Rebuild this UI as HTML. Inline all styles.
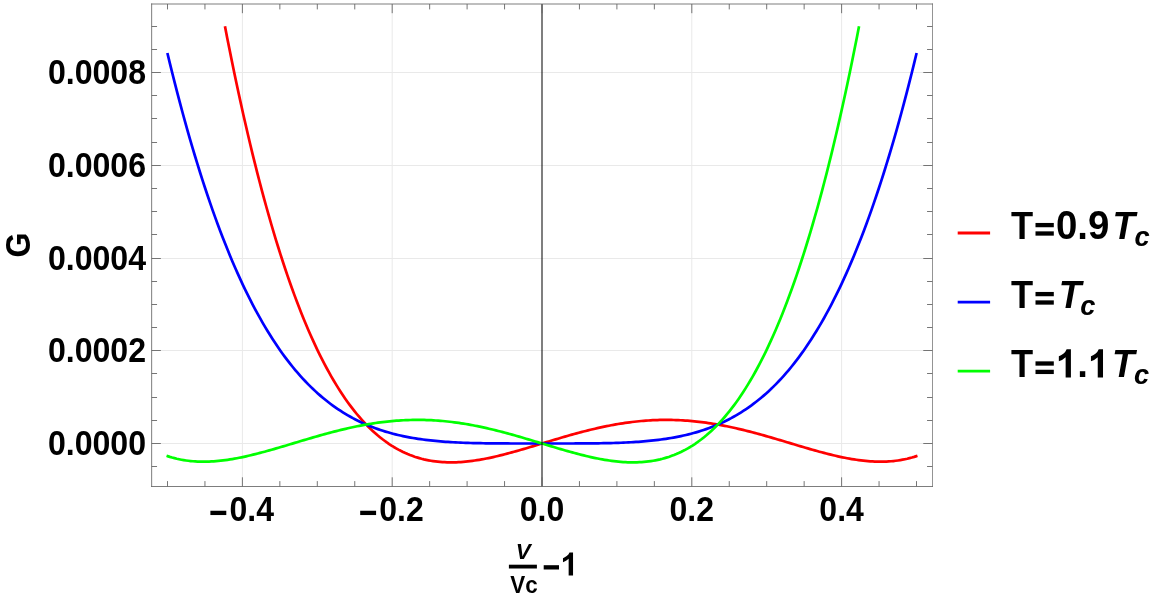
<!DOCTYPE html>
<html><head><meta charset="utf-8"><title>G plot</title>
<style>
html,body{margin:0;padding:0;background:#fff;}
svg{display:block;will-change:transform;}
text{font-family:"Liberation Sans",sans-serif;font-weight:bold;fill:#000;}
.i{font-style:italic;}
</style></head><body>
<svg width="1163" height="598" viewBox="0 0 1163 598">
<rect width="1163" height="598" fill="#fff"/>

<g stroke="#e9e9e9" stroke-width="1" fill="none">
<line x1="242.40" y1="4.0" x2="242.40" y2="486.5"/>
<line x1="392.20" y1="4.0" x2="392.20" y2="486.5"/>
<line x1="691.80" y1="4.0" x2="691.80" y2="486.5"/>
<line x1="841.60" y1="4.0" x2="841.60" y2="486.5"/>
<line x1="151.65" y1="443.50" x2="932.45" y2="443.50"/>
<line x1="151.65" y1="350.50" x2="932.45" y2="350.50"/>
<line x1="151.65" y1="258.50" x2="932.45" y2="258.50"/>
<line x1="151.65" y1="165.50" x2="932.45" y2="165.50"/>
<line x1="151.65" y1="72.50" x2="932.45" y2="72.50"/>
</g>
<g fill="none" stroke-width="2.7" stroke-linejoin="round" stroke-linecap="butt">
<path stroke="#ff0000" d="M224.96,26.26 L227.27,38.14 L229.59,49.80 L231.90,61.24 L234.21,72.46 L236.53,83.45 L238.84,94.24 L241.15,104.81 L243.46,115.17 L245.78,125.32 L248.09,135.27 L250.40,145.01 L252.71,154.56 L255.03,163.90 L257.34,173.06 L259.65,182.02 L261.97,190.78 L264.28,199.36 L266.59,207.76 L268.90,215.97 L271.22,224.00 L273.53,231.85 L275.84,239.52 L278.16,247.02 L280.47,254.35 L282.78,261.51 L285.09,268.50 L287.41,275.33 L289.72,281.99 L292.03,288.50 L294.35,294.84 L296.66,301.03 L298.97,307.07 L301.28,312.95 L303.60,318.68 L305.91,324.27 L308.22,329.71 L310.54,335.01 L312.85,340.16 L315.16,345.18 L317.47,350.06 L319.79,354.80 L322.10,359.41 L324.41,363.90 L326.73,368.25 L329.04,372.47 L331.35,376.57 L333.66,380.55 L335.98,384.41 L338.29,388.14 L340.60,391.76 L342.92,395.27 L345.23,398.66 L347.54,401.94 L349.85,405.11 L352.17,408.17 L354.48,411.13 L356.79,413.99 L359.11,416.74 L361.42,419.39 L363.73,421.94 L366.04,424.40 L368.36,426.76 L370.67,429.03 L372.98,431.20 L375.30,433.29 L377.61,435.29 L379.92,437.20 L382.23,439.03 L384.55,440.77 L386.86,442.44 L389.17,444.02 L391.49,445.53 L393.80,446.96 L396.11,448.31 L398.42,449.60 L400.74,450.81 L403.05,451.95 L405.36,453.02 L407.68,454.03 L409.99,454.97 L412.30,455.84 L414.61,456.66 L416.93,457.41 L419.24,458.10 L421.55,458.74 L423.87,459.32 L426.18,459.84 L428.49,460.31 L430.80,460.73 L433.12,461.10 L435.43,461.42 L437.74,461.69 L440.05,461.91 L442.37,462.09 L444.68,462.22 L446.99,462.32 L449.31,462.37 L451.62,462.38 L453.93,462.35 L456.24,462.28 L458.56,462.18 L460.87,462.04 L463.18,461.87 L465.50,461.66 L467.81,461.42 L470.12,461.16 L472.43,460.86 L474.75,460.53 L477.06,460.18 L479.37,459.81 L481.69,459.40 L484.00,458.98 L486.31,458.53 L488.62,458.06 L490.94,457.57 L493.25,457.06 L495.56,456.53 L497.88,455.98 L500.19,455.42 L502.50,454.84 L504.81,454.25 L507.13,453.65 L509.44,453.03 L511.75,452.40 L514.07,451.76 L516.38,451.11 L518.69,450.45 L521.00,449.78 L523.32,449.11 L525.63,448.43 L527.94,447.74 L530.26,447.05 L532.57,446.36 L534.88,445.66 L537.19,444.96 L539.51,444.26 L541.82,443.55 L544.13,442.85 L546.45,442.15 L548.76,441.45 L551.07,440.75 L553.38,440.06 L555.70,439.36 L558.01,438.68 L560.32,437.99 L562.64,437.31 L564.95,436.64 L567.26,435.98 L569.57,435.32 L571.89,434.67 L574.20,434.03 L576.51,433.39 L578.83,432.77 L581.14,432.15 L583.45,431.55 L585.76,430.96 L588.08,430.37 L590.39,429.81 L592.70,429.25 L595.02,428.70 L597.33,428.17 L599.64,427.65 L601.95,427.15 L604.27,426.66 L606.58,426.18 L608.89,425.72 L611.21,425.28 L613.52,424.85 L615.83,424.44 L618.14,424.04 L620.46,423.66 L622.77,423.30 L625.08,422.95 L627.40,422.63 L629.71,422.32 L632.02,422.02 L634.33,421.75 L636.65,421.49 L638.96,421.25 L641.27,421.03 L643.58,420.83 L645.90,420.65 L648.21,420.49 L650.52,420.35 L652.84,420.22 L655.15,420.12 L657.46,420.03 L659.77,419.97 L662.09,419.92 L664.40,419.89 L666.71,419.89 L669.03,419.90 L671.34,419.93 L673.65,419.98 L675.96,420.05 L678.28,420.14 L680.59,420.25 L682.90,420.38 L685.22,420.53 L687.53,420.70 L689.84,420.88 L692.15,421.09 L694.47,421.31 L696.78,421.55 L699.09,421.81 L701.41,422.09 L703.72,422.39 L706.03,422.70 L708.34,423.04 L710.66,423.39 L712.97,423.75 L715.28,424.14 L717.60,424.53 L719.91,424.95 L722.22,425.38 L724.53,425.83 L726.85,426.29 L729.16,426.77 L731.47,427.26 L733.79,427.76 L736.10,428.28 L738.41,428.82 L740.72,429.36 L743.04,429.92 L745.35,430.49 L747.66,431.07 L749.98,431.66 L752.29,432.27 L754.60,432.88 L756.91,433.50 L759.23,434.13 L761.54,434.77 L763.85,435.42 L766.17,436.08 L768.48,436.74 L770.79,437.41 L773.10,438.08 L775.42,438.76 L777.73,439.45 L780.04,440.13 L782.36,440.82 L784.67,441.51 L786.98,442.21 L789.29,442.90 L791.61,443.60 L793.92,444.29 L796.23,444.99 L798.55,445.68 L800.86,446.37 L803.17,447.05 L805.48,447.73 L807.80,448.41 L810.11,449.08 L812.42,449.74 L814.74,450.39 L817.05,451.04 L819.36,451.68 L821.67,452.30 L823.99,452.92 L826.30,453.52 L828.61,454.11 L830.92,454.68 L833.24,455.24 L835.55,455.79 L837.86,456.31 L840.18,456.82 L842.49,457.31 L844.80,457.78 L847.11,458.23 L849.43,458.66 L851.74,459.06 L854.05,459.44 L856.37,459.79 L858.68,460.12 L860.99,460.42 L863.30,460.69 L865.62,460.93 L867.93,461.14 L870.24,461.32 L872.56,461.46 L874.87,461.57 L877.18,461.64 L879.49,461.68 L881.81,461.67 L884.12,461.63 L886.43,461.55 L888.75,461.42 L891.06,461.25 L893.37,461.04 L895.68,460.78 L898.00,460.47 L900.31,460.11 L902.62,459.70 L904.94,459.24 L907.25,458.73 L909.56,458.16 L911.87,457.54 L914.19,456.86 L916.50,456.12 L917.45,455.82"/>
<path stroke="#0000ff" d="M167.36,52.97 L167.50,53.55 L170.01,63.88 L172.51,74.01 L175.02,83.92 L177.52,93.64 L180.03,103.16 L182.53,112.49 L185.04,121.62 L187.54,130.56 L190.05,139.31 L192.55,147.88 L195.06,156.26 L197.56,164.47 L200.07,172.50 L202.57,180.35 L205.08,188.04 L207.58,195.55 L210.09,202.90 L212.59,210.08 L215.10,217.10 L217.60,223.96 L220.11,230.66 L222.61,237.21 L225.12,243.61 L227.62,249.85 L230.13,255.95 L232.63,261.90 L235.14,267.71 L237.64,273.38 L240.15,278.92 L242.65,284.31 L245.16,289.57 L247.66,294.70 L250.17,299.71 L252.67,304.58 L255.18,309.33 L257.68,313.95 L260.19,318.46 L262.69,322.85 L265.20,327.12 L267.70,331.27 L270.21,335.32 L272.71,339.25 L275.22,343.08 L277.72,346.79 L280.23,350.41 L282.73,353.92 L285.24,357.33 L287.74,360.65 L290.25,363.87 L292.75,366.99 L295.26,370.02 L297.76,372.96 L300.27,375.81 L302.77,378.57 L305.28,381.25 L307.78,383.84 L310.29,386.35 L312.79,388.78 L315.30,391.14 L317.80,393.41 L320.31,395.61 L322.81,397.74 L325.32,399.80 L327.82,401.78 L330.33,403.70 L332.83,405.55 L335.34,407.34 L337.84,409.06 L340.35,410.72 L342.85,412.32 L345.36,413.86 L347.86,415.34 L350.37,416.76 L352.87,418.14 L355.38,419.45 L357.88,420.72 L360.39,421.93 L362.89,423.10 L365.40,424.22 L367.90,425.29 L370.41,426.31 L372.91,427.29 L375.42,428.23 L377.92,429.13 L380.43,429.99 L382.93,430.81 L385.44,431.59 L387.94,432.33 L390.45,433.04 L392.95,433.72 L395.46,434.36 L397.96,434.97 L400.47,435.55 L402.97,436.09 L405.48,436.61 L407.98,437.10 L410.49,437.57 L412.99,438.01 L415.50,438.42 L418.00,438.81 L420.51,439.18 L423.01,439.53 L425.52,439.85 L428.02,440.15 L430.53,440.44 L433.03,440.70 L435.54,440.95 L438.04,441.18 L440.55,441.40 L443.05,441.60 L445.56,441.78 L448.06,441.96 L450.57,442.11 L453.07,442.26 L455.58,442.39 L458.08,442.52 L460.59,442.63 L463.09,442.73 L465.60,442.82 L468.10,442.91 L470.61,442.98 L473.11,443.05 L475.62,443.12 L478.12,443.17 L480.63,443.22 L483.13,443.26 L485.64,443.30 L488.14,443.33 L490.65,443.36 L493.15,443.39 L495.66,443.41 L498.16,443.43 L500.67,443.44 L503.17,443.45 L505.68,443.47 L508.18,443.47 L510.69,443.48 L513.19,443.49 L515.70,443.49 L518.20,443.49 L520.71,443.50 L523.21,443.50 L525.72,443.50 L528.22,443.50 L530.73,443.50 L533.23,443.50 L535.74,443.50 L538.24,443.50 L540.75,443.50 L543.25,443.50 L545.76,443.50 L548.26,443.50 L550.77,443.50 L553.27,443.50 L555.78,443.50 L558.28,443.50 L560.79,443.50 L563.29,443.50 L565.80,443.49 L568.30,443.49 L570.81,443.49 L573.31,443.48 L575.82,443.47 L578.32,443.47 L580.83,443.45 L583.33,443.44 L585.84,443.43 L588.34,443.41 L590.85,443.39 L593.35,443.36 L595.86,443.33 L598.36,443.30 L600.87,443.26 L603.37,443.22 L605.88,443.17 L608.38,443.12 L610.89,443.05 L613.39,442.98 L615.90,442.91 L618.40,442.82 L620.91,442.73 L623.41,442.63 L625.92,442.52 L628.42,442.39 L630.93,442.26 L633.43,442.11 L635.94,441.96 L638.44,441.78 L640.95,441.60 L643.45,441.40 L645.96,441.18 L648.46,440.95 L650.97,440.70 L653.47,440.44 L655.98,440.15 L658.48,439.85 L660.99,439.53 L663.49,439.18 L666.00,438.81 L668.50,438.42 L671.01,438.01 L673.51,437.57 L676.02,437.10 L678.52,436.61 L681.03,436.09 L683.53,435.55 L686.04,434.97 L688.54,434.36 L691.05,433.72 L693.55,433.04 L696.06,432.33 L698.56,431.59 L701.07,430.81 L703.57,429.99 L706.08,429.13 L708.58,428.23 L711.09,427.29 L713.59,426.31 L716.10,425.29 L718.60,424.22 L721.11,423.10 L723.61,421.93 L726.12,420.72 L728.62,419.45 L731.13,418.14 L733.63,416.76 L736.14,415.34 L738.64,413.86 L741.15,412.32 L743.65,410.72 L746.16,409.06 L748.66,407.34 L751.17,405.55 L753.67,403.70 L756.18,401.78 L758.68,399.80 L761.19,397.74 L763.69,395.61 L766.20,393.41 L768.70,391.14 L771.21,388.78 L773.71,386.35 L776.22,383.84 L778.72,381.25 L781.23,378.57 L783.73,375.81 L786.24,372.96 L788.74,370.02 L791.25,366.99 L793.75,363.87 L796.26,360.65 L798.76,357.33 L801.27,353.92 L803.77,350.41 L806.28,346.79 L808.78,343.08 L811.29,339.25 L813.79,335.32 L816.30,331.27 L818.80,327.12 L821.31,322.85 L823.81,318.46 L826.32,313.95 L828.82,309.33 L831.33,304.58 L833.83,299.71 L836.34,294.70 L838.84,289.57 L841.35,284.31 L843.85,278.92 L846.36,273.38 L848.86,267.71 L851.37,261.90 L853.87,255.95 L856.38,249.85 L858.88,243.61 L861.39,237.21 L863.89,230.66 L866.40,223.96 L868.90,217.10 L871.41,210.08 L873.91,202.90 L876.42,195.55 L878.92,188.04 L881.43,180.35 L883.93,172.50 L886.44,164.47 L888.94,156.26 L891.45,147.88 L893.95,139.31 L896.46,130.56 L898.96,121.62 L901.47,112.49 L903.97,103.16 L906.48,93.64 L908.98,83.92 L911.49,74.01 L913.99,63.88 L916.50,53.55 L916.64,52.97"/>
<path stroke="#00ff00" d="M166.55,455.82 L167.50,456.12 L169.81,456.86 L172.13,457.54 L174.44,458.16 L176.75,458.73 L179.06,459.24 L181.38,459.70 L183.69,460.11 L186.00,460.47 L188.32,460.78 L190.63,461.04 L192.94,461.25 L195.25,461.42 L197.57,461.55 L199.88,461.63 L202.19,461.67 L204.51,461.68 L206.82,461.64 L209.13,461.57 L211.44,461.46 L213.76,461.32 L216.07,461.14 L218.38,460.93 L220.70,460.69 L223.01,460.42 L225.32,460.12 L227.63,459.79 L229.95,459.44 L232.26,459.06 L234.57,458.66 L236.89,458.23 L239.20,457.78 L241.51,457.31 L243.82,456.82 L246.14,456.31 L248.45,455.79 L250.76,455.24 L253.08,454.68 L255.39,454.11 L257.70,453.52 L260.01,452.92 L262.33,452.30 L264.64,451.68 L266.95,451.04 L269.26,450.39 L271.58,449.74 L273.89,449.08 L276.20,448.41 L278.52,447.73 L280.83,447.05 L283.14,446.37 L285.45,445.68 L287.77,444.99 L290.08,444.29 L292.39,443.60 L294.71,442.90 L297.02,442.21 L299.33,441.51 L301.64,440.82 L303.96,440.13 L306.27,439.45 L308.58,438.76 L310.90,438.08 L313.21,437.41 L315.52,436.74 L317.83,436.08 L320.15,435.42 L322.46,434.77 L324.77,434.13 L327.09,433.50 L329.40,432.88 L331.71,432.27 L334.02,431.66 L336.34,431.07 L338.65,430.49 L340.96,429.92 L343.28,429.36 L345.59,428.82 L347.90,428.28 L350.21,427.76 L352.53,427.26 L354.84,426.77 L357.15,426.29 L359.47,425.83 L361.78,425.38 L364.09,424.95 L366.40,424.53 L368.72,424.14 L371.03,423.75 L373.34,423.39 L375.66,423.04 L377.97,422.70 L380.28,422.39 L382.59,422.09 L384.91,421.81 L387.22,421.55 L389.53,421.31 L391.85,421.09 L394.16,420.88 L396.47,420.70 L398.78,420.53 L401.10,420.38 L403.41,420.25 L405.72,420.14 L408.04,420.05 L410.35,419.98 L412.66,419.93 L414.97,419.90 L417.29,419.89 L419.60,419.89 L421.91,419.92 L424.23,419.97 L426.54,420.03 L428.85,420.12 L431.16,420.22 L433.48,420.35 L435.79,420.49 L438.10,420.65 L440.42,420.83 L442.73,421.03 L445.04,421.25 L447.35,421.49 L449.67,421.75 L451.98,422.02 L454.29,422.32 L456.60,422.63 L458.92,422.95 L461.23,423.30 L463.54,423.66 L465.86,424.04 L468.17,424.44 L470.48,424.85 L472.79,425.28 L475.11,425.72 L477.42,426.18 L479.73,426.66 L482.05,427.15 L484.36,427.65 L486.67,428.17 L488.98,428.70 L491.30,429.25 L493.61,429.81 L495.92,430.37 L498.24,430.96 L500.55,431.55 L502.86,432.15 L505.17,432.77 L507.49,433.39 L509.80,434.03 L512.11,434.67 L514.43,435.32 L516.74,435.98 L519.05,436.64 L521.36,437.31 L523.68,437.99 L525.99,438.68 L528.30,439.36 L530.62,440.06 L532.93,440.75 L535.24,441.45 L537.55,442.15 L539.87,442.85 L542.18,443.55 L544.49,444.26 L546.81,444.96 L549.12,445.66 L551.43,446.36 L553.74,447.05 L556.06,447.74 L558.37,448.43 L560.68,449.11 L563.00,449.78 L565.31,450.45 L567.62,451.11 L569.93,451.76 L572.25,452.40 L574.56,453.03 L576.87,453.65 L579.19,454.25 L581.50,454.84 L583.81,455.42 L586.12,455.98 L588.44,456.53 L590.75,457.06 L593.06,457.57 L595.38,458.06 L597.69,458.53 L600.00,458.98 L602.31,459.40 L604.63,459.81 L606.94,460.18 L609.25,460.53 L611.57,460.86 L613.88,461.16 L616.19,461.42 L618.50,461.66 L620.82,461.87 L623.13,462.04 L625.44,462.18 L627.76,462.28 L630.07,462.35 L632.38,462.38 L634.69,462.37 L637.01,462.32 L639.32,462.22 L641.63,462.09 L643.95,461.91 L646.26,461.69 L648.57,461.42 L650.88,461.10 L653.20,460.73 L655.51,460.31 L657.82,459.84 L660.13,459.32 L662.45,458.74 L664.76,458.10 L667.07,457.41 L669.39,456.66 L671.70,455.84 L674.01,454.97 L676.32,454.03 L678.64,453.02 L680.95,451.95 L683.26,450.81 L685.58,449.60 L687.89,448.31 L690.20,446.96 L692.51,445.53 L694.83,444.02 L697.14,442.44 L699.45,440.77 L701.77,439.03 L704.08,437.20 L706.39,435.29 L708.70,433.29 L711.02,431.20 L713.33,429.03 L715.64,426.76 L717.96,424.40 L720.27,421.94 L722.58,419.39 L724.89,416.74 L727.21,413.99 L729.52,411.13 L731.83,408.17 L734.15,405.11 L736.46,401.94 L738.77,398.66 L741.08,395.27 L743.40,391.76 L745.71,388.14 L748.02,384.41 L750.34,380.55 L752.65,376.57 L754.96,372.47 L757.27,368.25 L759.59,363.90 L761.90,359.41 L764.21,354.80 L766.53,350.06 L768.84,345.18 L771.15,340.16 L773.46,335.01 L775.78,329.71 L778.09,324.27 L780.40,318.68 L782.72,312.95 L785.03,307.07 L787.34,301.03 L789.65,294.84 L791.97,288.50 L794.28,281.99 L796.59,275.33 L798.91,268.50 L801.22,261.51 L803.53,254.35 L805.84,247.02 L808.16,239.52 L810.47,231.85 L812.78,224.00 L815.10,215.97 L817.41,207.76 L819.72,199.36 L822.03,190.78 L824.35,182.02 L826.66,173.06 L828.97,163.90 L831.29,154.56 L833.60,145.01 L835.91,135.27 L838.22,125.32 L840.54,115.17 L842.85,104.81 L845.16,94.24 L847.47,83.45 L849.79,72.46 L852.10,61.24 L854.41,49.80 L856.73,38.14 L859.04,26.26"/>
</g>
<rect x="541" y="4.0" width="2" height="482.5" fill="#000" fill-opacity="0.5"/>
<g stroke="#666666" stroke-width="0.9" fill="none">
<line x1="167.50" y1="486.5" x2="167.50" y2="481.10"/>
<line x1="167.50" y1="4.0" x2="167.50" y2="9.40"/>
<line x1="204.95" y1="486.5" x2="204.95" y2="481.10"/>
<line x1="204.95" y1="4.0" x2="204.95" y2="9.40"/>
<line x1="242.40" y1="486.5" x2="242.40" y2="477.30"/>
<line x1="242.40" y1="4.0" x2="242.40" y2="13.20"/>
<line x1="279.85" y1="486.5" x2="279.85" y2="481.10"/>
<line x1="279.85" y1="4.0" x2="279.85" y2="9.40"/>
<line x1="317.30" y1="486.5" x2="317.30" y2="481.10"/>
<line x1="317.30" y1="4.0" x2="317.30" y2="9.40"/>
<line x1="354.75" y1="486.5" x2="354.75" y2="481.10"/>
<line x1="354.75" y1="4.0" x2="354.75" y2="9.40"/>
<line x1="392.20" y1="486.5" x2="392.20" y2="477.30"/>
<line x1="392.20" y1="4.0" x2="392.20" y2="13.20"/>
<line x1="429.65" y1="486.5" x2="429.65" y2="481.10"/>
<line x1="429.65" y1="4.0" x2="429.65" y2="9.40"/>
<line x1="467.10" y1="486.5" x2="467.10" y2="481.10"/>
<line x1="467.10" y1="4.0" x2="467.10" y2="9.40"/>
<line x1="504.55" y1="486.5" x2="504.55" y2="481.10"/>
<line x1="504.55" y1="4.0" x2="504.55" y2="9.40"/>
<line x1="542.00" y1="486.5" x2="542.00" y2="477.30"/>
<line x1="542.00" y1="4.0" x2="542.00" y2="13.20"/>
<line x1="579.45" y1="486.5" x2="579.45" y2="481.10"/>
<line x1="579.45" y1="4.0" x2="579.45" y2="9.40"/>
<line x1="616.90" y1="486.5" x2="616.90" y2="481.10"/>
<line x1="616.90" y1="4.0" x2="616.90" y2="9.40"/>
<line x1="654.35" y1="486.5" x2="654.35" y2="481.10"/>
<line x1="654.35" y1="4.0" x2="654.35" y2="9.40"/>
<line x1="691.80" y1="486.5" x2="691.80" y2="477.30"/>
<line x1="691.80" y1="4.0" x2="691.80" y2="13.20"/>
<line x1="729.25" y1="486.5" x2="729.25" y2="481.10"/>
<line x1="729.25" y1="4.0" x2="729.25" y2="9.40"/>
<line x1="766.70" y1="486.5" x2="766.70" y2="481.10"/>
<line x1="766.70" y1="4.0" x2="766.70" y2="9.40"/>
<line x1="804.15" y1="486.5" x2="804.15" y2="481.10"/>
<line x1="804.15" y1="4.0" x2="804.15" y2="9.40"/>
<line x1="841.60" y1="486.5" x2="841.60" y2="477.30"/>
<line x1="841.60" y1="4.0" x2="841.60" y2="13.20"/>
<line x1="879.05" y1="486.5" x2="879.05" y2="481.10"/>
<line x1="879.05" y1="4.0" x2="879.05" y2="9.40"/>
<line x1="916.50" y1="486.5" x2="916.50" y2="481.10"/>
<line x1="916.50" y1="4.0" x2="916.50" y2="9.40"/>
<line x1="151.65" y1="466.50" x2="157.05" y2="466.50"/>
<line x1="932.45" y1="466.50" x2="927.05" y2="466.50"/>
<line x1="151.65" y1="443.50" x2="160.85" y2="443.50"/>
<line x1="932.45" y1="443.50" x2="923.25" y2="443.50"/>
<line x1="151.65" y1="420.50" x2="157.05" y2="420.50"/>
<line x1="932.45" y1="420.50" x2="927.05" y2="420.50"/>
<line x1="151.65" y1="397.50" x2="157.05" y2="397.50"/>
<line x1="932.45" y1="397.50" x2="927.05" y2="397.50"/>
<line x1="151.65" y1="373.50" x2="157.05" y2="373.50"/>
<line x1="932.45" y1="373.50" x2="927.05" y2="373.50"/>
<line x1="151.65" y1="350.50" x2="160.85" y2="350.50"/>
<line x1="932.45" y1="350.50" x2="923.25" y2="350.50"/>
<line x1="151.65" y1="327.50" x2="157.05" y2="327.50"/>
<line x1="932.45" y1="327.50" x2="927.05" y2="327.50"/>
<line x1="151.65" y1="304.50" x2="157.05" y2="304.50"/>
<line x1="932.45" y1="304.50" x2="927.05" y2="304.50"/>
<line x1="151.65" y1="281.50" x2="157.05" y2="281.50"/>
<line x1="932.45" y1="281.50" x2="927.05" y2="281.50"/>
<line x1="151.65" y1="258.50" x2="160.85" y2="258.50"/>
<line x1="932.45" y1="258.50" x2="923.25" y2="258.50"/>
<line x1="151.65" y1="234.50" x2="157.05" y2="234.50"/>
<line x1="932.45" y1="234.50" x2="927.05" y2="234.50"/>
<line x1="151.65" y1="211.50" x2="157.05" y2="211.50"/>
<line x1="932.45" y1="211.50" x2="927.05" y2="211.50"/>
<line x1="151.65" y1="188.50" x2="157.05" y2="188.50"/>
<line x1="932.45" y1="188.50" x2="927.05" y2="188.50"/>
<line x1="151.65" y1="165.50" x2="160.85" y2="165.50"/>
<line x1="932.45" y1="165.50" x2="923.25" y2="165.50"/>
<line x1="151.65" y1="142.50" x2="157.05" y2="142.50"/>
<line x1="932.45" y1="142.50" x2="927.05" y2="142.50"/>
<line x1="151.65" y1="118.50" x2="157.05" y2="118.50"/>
<line x1="932.45" y1="118.50" x2="927.05" y2="118.50"/>
<line x1="151.65" y1="95.50" x2="157.05" y2="95.50"/>
<line x1="932.45" y1="95.50" x2="927.05" y2="95.50"/>
<line x1="151.65" y1="72.50" x2="160.85" y2="72.50"/>
<line x1="932.45" y1="72.50" x2="923.25" y2="72.50"/>
<line x1="151.65" y1="49.50" x2="157.05" y2="49.50"/>
<line x1="932.45" y1="49.50" x2="927.05" y2="49.50"/>
<line x1="151.65" y1="26.50" x2="157.05" y2="26.50"/>
<line x1="932.45" y1="26.50" x2="927.05" y2="26.50"/>
</g>
<g stroke="#666666" fill="none" stroke-linecap="square">
<line x1="151.65" y1="4.0" x2="151.65" y2="486.5" stroke-width="0.85"/>
<line x1="151.65" y1="4.0" x2="932.45" y2="4.0" stroke-width="0.85"/>
<line x1="151.65" y1="486.5" x2="932.45" y2="486.5" stroke-width="0.85"/>
<line x1="932.5" y1="4.0" x2="932.5" y2="486.5" stroke-width="0.7"/>
</g>
<text transform="translate(146.05,455.00) scale(1,1.065)" font-size="32.1" text-anchor="end">0.0000</text>
<text transform="translate(146.05,362.28) scale(1,1.065)" font-size="32.1" text-anchor="end">0.0002</text>
<text transform="translate(146.05,269.56) scale(1,1.065)" font-size="32.1" text-anchor="end">0.0004</text>
<text transform="translate(146.05,176.84) scale(1,1.065)" font-size="32.1" text-anchor="end">0.0006</text>
<text transform="translate(146.05,84.12) scale(1,1.065)" font-size="32.1" text-anchor="end">0.0008</text>
<rect x="210.39" y="510.75" width="15.90" height="4.30" fill="#000"/>
<text transform="translate(229.50,520.90) scale(1,1.075)" font-size="32" text-anchor="start">0.4</text>
<rect x="360.19" y="510.75" width="15.90" height="4.30" fill="#000"/>
<text transform="translate(379.30,520.90) scale(1,1.075)" font-size="32" text-anchor="start">0.2</text>
<text transform="translate(542.00,520.90) scale(1,1.075)" font-size="32" text-anchor="middle">0.0</text>
<text transform="translate(691.80,520.90) scale(1,1.075)" font-size="32" text-anchor="middle">0.2</text>
<text transform="translate(841.60,520.90) scale(1,1.075)" font-size="32" text-anchor="middle">0.4</text>
<text transform="translate(29.9,245.1) rotate(-90) scale(1,1.09)" font-size="32" text-anchor="middle">G</text>
<text transform="translate(523.20,558.70) scale(1,1.0)" font-size="22.4" text-anchor="middle" class="i">V</text>
<rect x="508.90" y="564.70" width="28.00" height="3.80" fill="#000"/>
<text transform="translate(523.90,593.30) scale(1,1.03)" font-size="22.4" text-anchor="middle">Vc</text>
<rect x="543.70" y="565.20" width="15.30" height="4.30" fill="#000"/>
<path d="M806 0H525V1059Q371 915 162 846V1101Q272 1137 401 1238T578 1472H806Z" transform="translate(560.45,575.40) scale(0.01562,-0.01562)" fill="#000"/>
<line x1="957.7" y1="233.0" x2="990.1" y2="233.0" stroke="#ff0000" stroke-width="2.8"/>
<text transform="translate(1011.00,239.00) scale(0.945,1.03)" font-size="38.4" text-anchor="start">T</text>
<rect x="1035.50" y="222.95" width="18.30" height="4.30" fill="#000"/>
<rect x="1035.50" y="231.35" width="18.30" height="4.30" fill="#000"/>
<line x1="957.7" y1="302.1" x2="990.1" y2="302.1" stroke="#0000ff" stroke-width="2.8"/>
<text transform="translate(1011.00,308.00) scale(0.945,1.03)" font-size="38.4" text-anchor="start">T</text>
<rect x="1035.50" y="291.95" width="18.30" height="4.30" fill="#000"/>
<rect x="1035.50" y="300.35" width="18.30" height="4.30" fill="#000"/>
<line x1="957.7" y1="371.1" x2="990.1" y2="371.1" stroke="#00ff00" stroke-width="2.8"/>
<text transform="translate(1011.00,377.40) scale(0.945,1.03)" font-size="38.4" text-anchor="start">T</text>
<rect x="1035.50" y="361.35" width="18.30" height="4.30" fill="#000"/>
<rect x="1035.50" y="369.75" width="18.30" height="4.30" fill="#000"/>
<text transform="translate(1056.00,239.00) scale(1,1.05)" font-size="38.4" text-anchor="start">0.9</text>
<path d="M806 0H525V1059Q371 915 162 846V1101Q272 1137 401 1238T578 1472H806Z" transform="translate(1055.80,377.40) scale(0.01875,-0.01912)" fill="#000"/>
<text transform="translate(1077.20,377.40) scale(1,1)" font-size="38.4" text-anchor="start">.</text>
<path d="M806 0H525V1059Q371 915 162 846V1101Q272 1137 401 1238T578 1472H806Z" transform="translate(1087.90,377.40) scale(0.01875,-0.01912)" fill="#000"/>
<text transform="translate(1112.40,239.00) scale(0.96,1.03)" font-size="38.4" text-anchor="start" class="i">T</text>
<text transform="translate(1134.40,246.00) scale(1,1.03)" font-size="27.3" text-anchor="start" class="i">c</text>
<text transform="translate(1058.80,308.00) scale(0.96,1.03)" font-size="38.4" text-anchor="start" class="i">T</text>
<text transform="translate(1080.30,315.00) scale(1,1.03)" font-size="27.3" text-anchor="start" class="i">c</text>
<text transform="translate(1112.00,377.40) scale(0.96,1.03)" font-size="38.4" text-anchor="start" class="i">T</text>
<text transform="translate(1134.00,384.40) scale(1,1.03)" font-size="27.3" text-anchor="start" class="i">c</text>
</svg></body></html>
